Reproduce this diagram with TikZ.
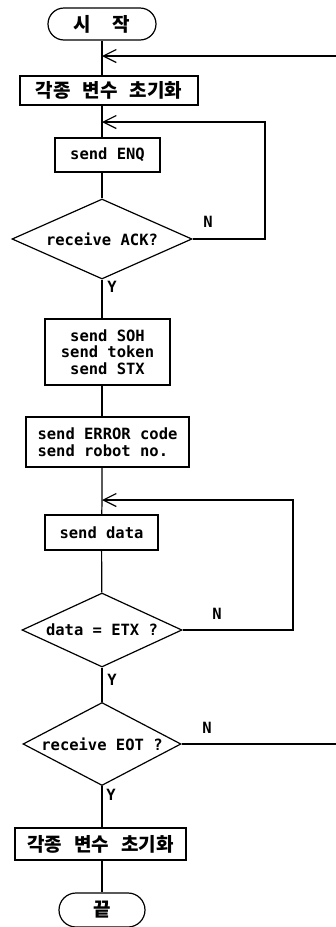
\documentclass[tikz,border=0pt]{standalone}
\usepackage{fontspec}
\setmonofont{DejaVu Sans Mono}
\newfontfamily\korfont{Noto Sans CJK KR}
\usetikzlibrary{positioning,arrows.meta,shapes.geometric,shapes.misc}
\newcommand{\ttlab}{\ttfamily\bfseries\fontsize{15.5}{16.5}\selectfont}
\newcommand{\korlab}{\korfont\bfseries\fontsize{19}{20}\selectfont}
\tikzset{
  flow/.style={line width=1.2pt},
  back/.style={line width=1.2pt,-{Straight Barb[length=13pt,width=13pt]}},
  proc/.style={draw,line width=1.2pt,rectangle,inner sep=0pt,font=\ttlab},
  dec/.style={draw,line width=1.2pt,diamond,inner sep=0pt,font=\ttlab},
  term/.style={draw,line width=1.2pt,rounded rectangle,inner sep=0pt,font=\korlab},
  yn/.style={font=\ttlab,inner sep=0pt}
}

\begin{document}
\begin{tikzpicture}[x=1pt,y=-1pt]
  \useasboundingbox (0,0) rectangle (336,927);
  \node[term,minimum width=108pt,minimum height=32pt] (start) at (102,24) {시\hspace{22pt}작};
  \coordinate (j1) at (102,56);
  \node[proc,font=\korlab,minimum width=178pt,minimum height=29pt] (init) at (109,90.5) {각종\hspace{12pt}변수\hspace{12pt}초기화};
  \coordinate (j2) at (102,122);
  \node[proc,minimum width=105pt,minimum height=34pt] (enq) at (107.5,155) {send ENQ};
  \node[dec,aspect=2.25,minimum width=180pt,minimum height=80pt] (ack) at (102,239) {receive ACK?};
  \node[yn] (ackn) at (208,222) {N};
  \node[yn] (acky) at (112,287) {Y};
  \node[proc,align=center,minimum width=125pt,minimum height=66pt] (soh) at (107.5,352) {send SOH\\send token\\send STX};
  \node[proc,align=left,minimum width=163pt,minimum height=50pt] (err) at (107.5,442) {send ERROR code\\send robot no.};
  \coordinate (j3) at (102,500);
  \node[proc,minimum width=113pt,minimum height=35pt] (data) at (101.5,532.5) {send data};
  \node[dec,aspect=2.16,minimum width=160pt,minimum height=74pt] (etx) at (102,630) {data = ETX ?};
  \node[yn] (etxn) at (217,614) {N};
  \node[yn] (etxy) at (112,680) {Y};
  \node[dec,aspect=1.9,minimum width=158pt,minimum height=83pt] (eot) at (102,744) {receive EOT ?};
  \node[yn] (eotn) at (207,728) {N};
  \node[yn] (eoty) at (111,795) {Y};
  \node[proc,font=\korlab,minimum width=171pt,minimum height=32pt] (reset) at (100.5,844) {각종\hspace{12pt}변수\hspace{12pt}초기화};
  \node[term,minimum width=86pt,minimum height=34pt] (stop) at (102,910) {끝};
  \coordinate (k2) at (265,122);
  \coordinate (k3) at (293,500);
  \coordinate (k1) at (338,56);

  \draw[flow] (start) -- (j1) -- (j1 |- init.north);
  \draw[flow] (j1 |- init.south) -- (j2) -- (j2 |- enq.north);
  \draw[flow] (j2 |- enq.south) -- (ack.north);
  \draw[flow] (ack.south) -- (ack.south |- soh.north);
  \draw[flow] (ack.south |- soh.south) -- (ack.south |- err.north);
  \draw[flow] (ack.south |- err.south) -- (j3) -- (data);
  \draw[flow] (data) -- (etx);
  \draw[flow] (etx) -- (eot);
  \draw[flow] (eot.south) -- (eot.south |- reset.north);
  \draw[flow] (eot.south |- reset.south) -- (eot.south |- stop.north);
  \draw[back] (ack.east) -| (k2) -- (j2);
  \draw[back] (etx.east) -| (k3) -- (j3);
  \draw[back] (eot.east) -| (k1) -- (j1);
\end{tikzpicture}
\end{document}
